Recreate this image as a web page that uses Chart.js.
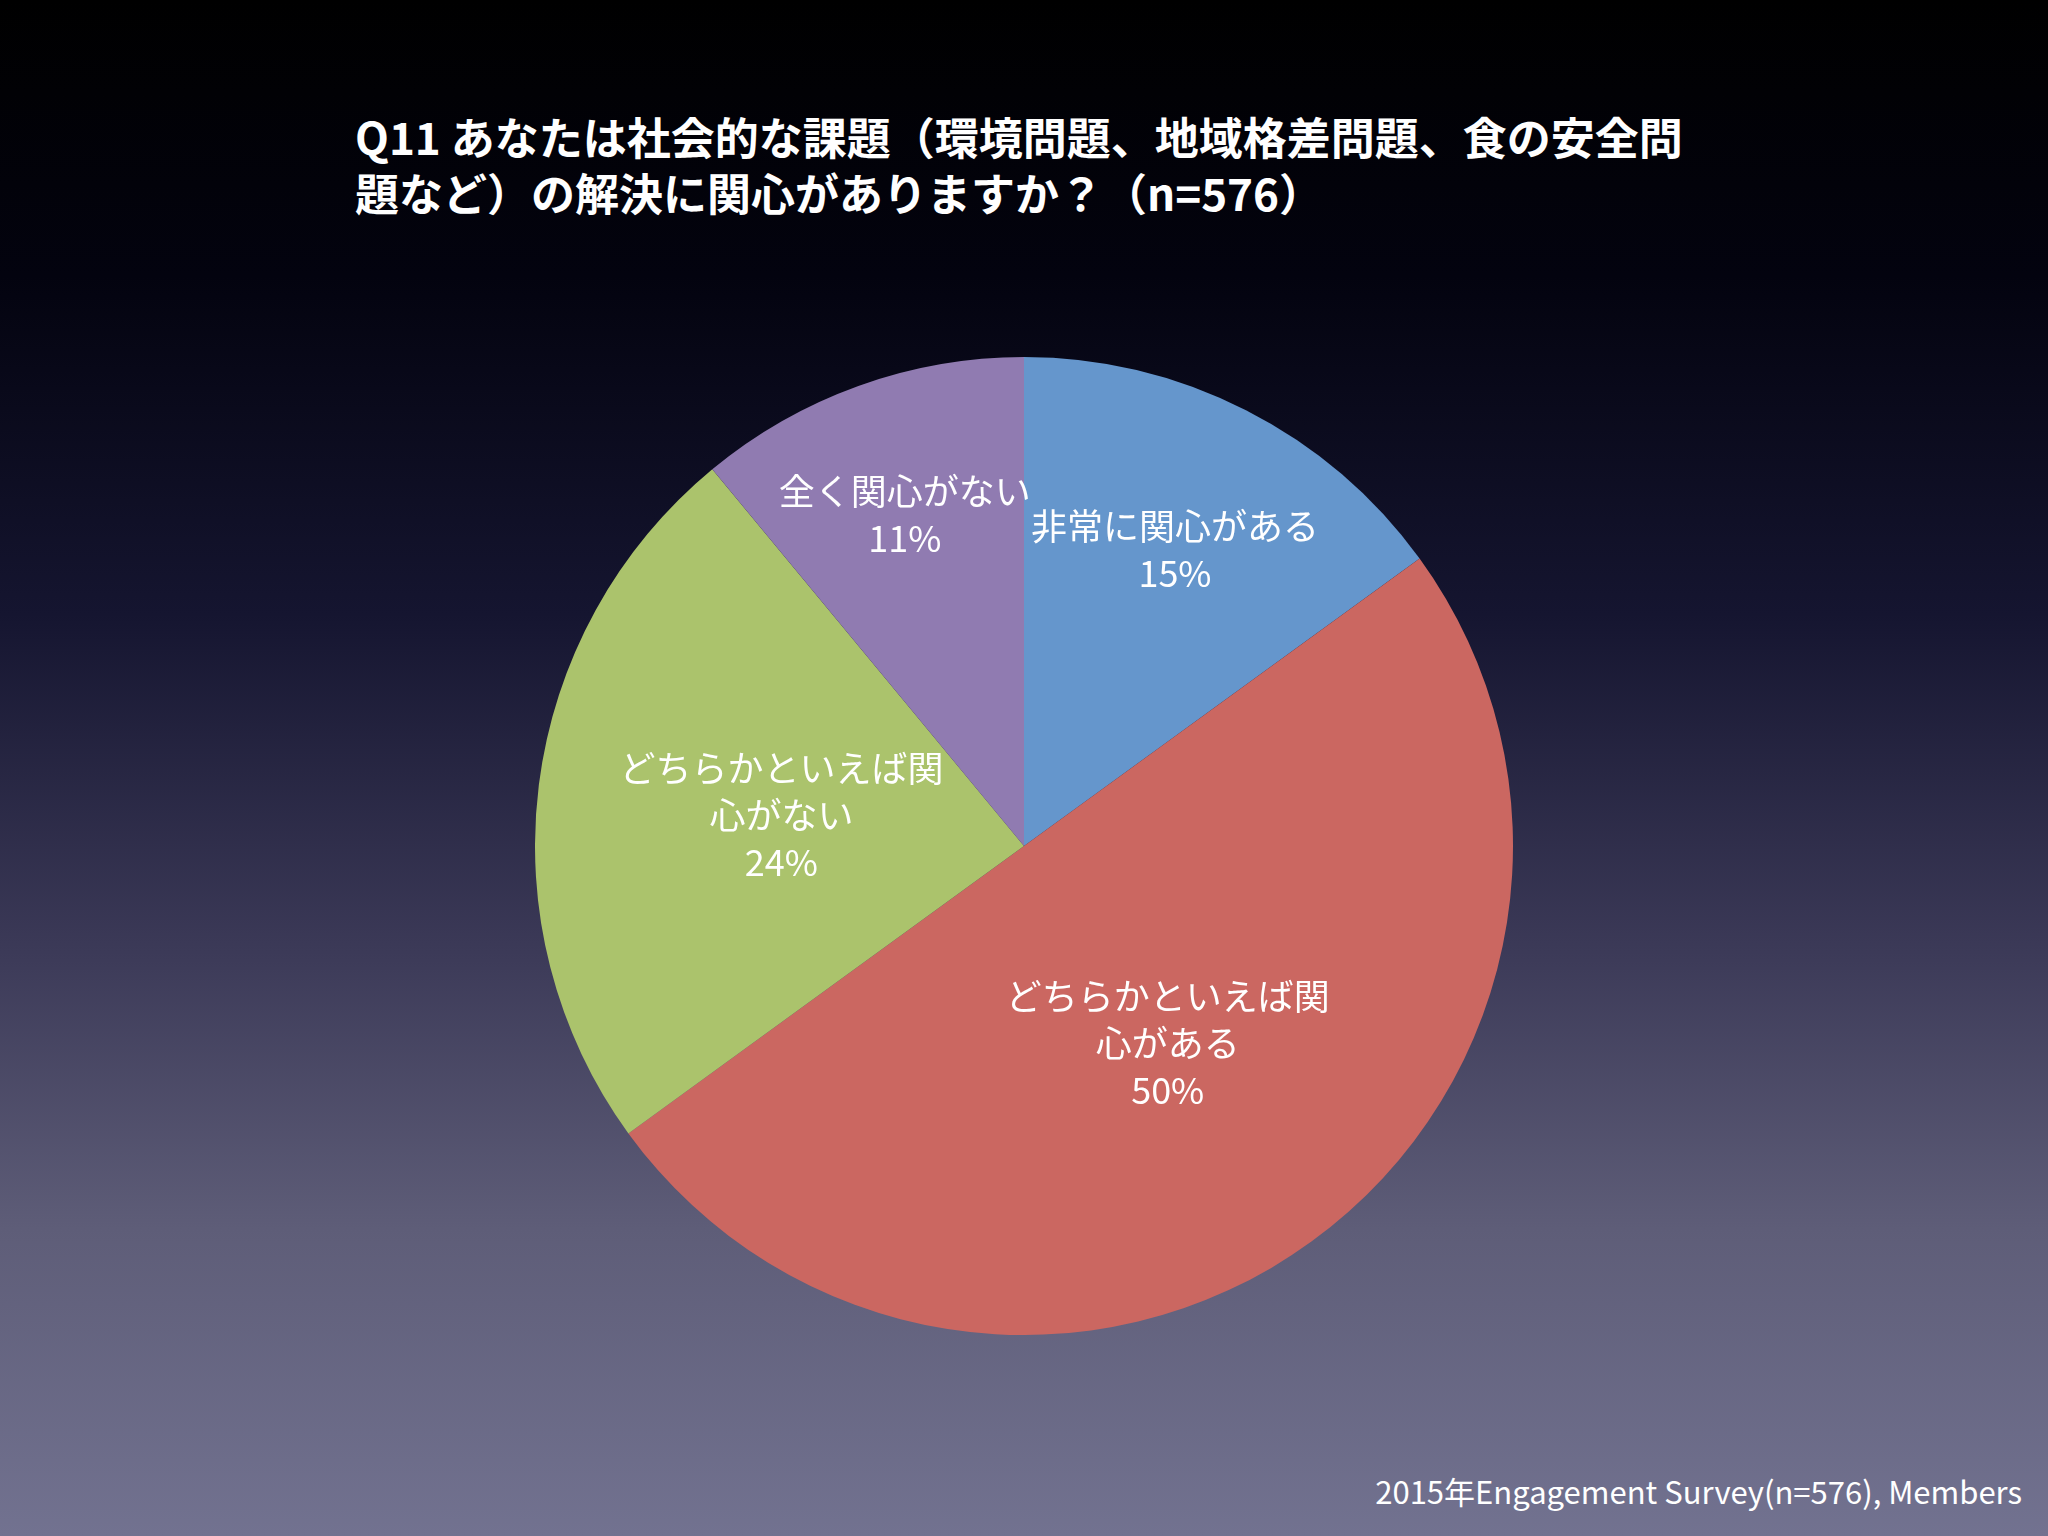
<!DOCTYPE html>
<html>
<head>
<meta charset="utf-8">
<script src="https://cdn.jsdelivr.net/npm/chart.js@4"></script>
<style>
  html, body { margin: 0; padding: 0; }
  body {
    width: 2048px; height: 1536px; overflow: hidden; position: relative;
    background: linear-gradient(to bottom, #000000 0%, #03030f 18%, #151530 40%, #3c3a58 62%, #5e5d78 80%, #727290 100%);
    font-family: "Noto Sans CJK JP", "Noto Sans", sans-serif;
  }
  #title {
    position: absolute; left: 355px; top: 108px; width: 1400px;
    color: #fff; font-weight: bold; font-size: 44px; line-height: 56px;
  }
  #foot {
    position: absolute; right: 26px; top: 1468px;
    color: #fff; font-size: 31px;
  }
  #wrap { position: absolute; left: 535px; top: 357px; width: 978px; height: 978px; }
</style>
</head>
<body>
<div id="title">Q11 あなたは社会的な課題（環境問題、地域格差問題、食の安全問<br>題など）の解決に関心がありますか？（n=576）</div>
<div id="wrap"><canvas id="c"></canvas></div>
<div id="foot">2015年Engagement Survey(n=576), Members</div>
<script>
const labels = ['非常に関心がある', 'どちらかといえば関心がある', 'どちらかといえば関心がない', '全く関心がない'];
const labelLines = [['非常に関心がある'], ['どちらかといえば関', '心がある'], ['どちらかといえば関', '心がない'], ['全く関心がない']];
const values = [15, 50, 24, 11];
const colors = ['#6596cc', '#cb6761', '#abc36c', '#907bb1'];
const labelDist = [0.68, 0.5, 0.5, 0.72];

const sliceLabels = {
  id: 'sliceLabels',
  afterDatasetsDraw(chart) {
    const ctx = chart.ctx;
    const arcs = chart.getDatasetMeta(0).data;
    ctx.save();
    ctx.fillStyle = '#fff';
    ctx.font = '36px "Noto Sans CJK JP", sans-serif';
    ctx.textAlign = 'center';
    ctx.textBaseline = 'middle';
    arcs.forEach((a, i) => {
      const mid = (a.startAngle + a.endAngle) / 2;
      const r = a.outerRadius * labelDist[i];
      const x = a.x + Math.cos(mid) * r;
      const y = a.y + Math.sin(mid) * r;
      const lines = labelLines[i].concat([values[i] + '%']);
      const lh = 47;
      lines.forEach((t, k) => ctx.fillText(t, x, y + (k - (lines.length - 1) / 2) * lh));
    });
    ctx.restore();
  }
};

new Chart(document.getElementById('c'), {
  type: 'pie',
  data: { labels: labels, datasets: [{ data: values, backgroundColor: colors, borderWidth: 0 }] },
  options: {
    responsive: true, maintainAspectRatio: false, animation: false,
    plugins: { legend: { display: false }, tooltip: { enabled: false } }
  },
  plugins: [sliceLabels]
});
</script>
</body>
</html>
